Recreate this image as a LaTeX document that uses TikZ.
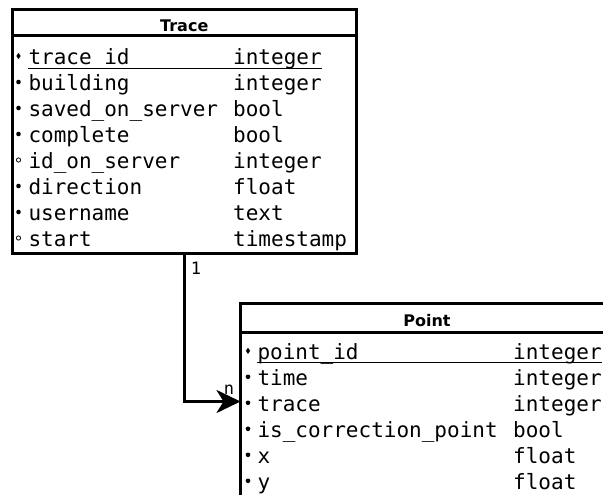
\documentclass[tikz,border=0pt]{standalone}
\usepackage{fontspec}
\newfontfamily\fieldfont{DejaVu Sans Mono}
\newfontfamily\headfont{DejaVu Sans}
\usetikzlibrary{arrows.meta,shapes.geometric}
\begin{document}
\begin{tikzpicture}[x=1pt,y=-1pt,
  table/.style={draw, line width=3pt, inner sep=0pt, outer sep=0pt, fill=white},
  rule/.style={line width=3pt},
  keyline/.style={line width=1.4pt},
  title/.style={font=\headfont\bfseries\fontsize{16}{19}\selectfont, inner sep=0pt, anchor=base},
  field/.style={font=\fieldfont\fontsize{21}{26}\selectfont, inner sep=0pt, anchor=base west},
  mult/.style={font=\fieldfont\fontsize{17}{20}\selectfont, inner sep=0pt},
  pk/.style={diamond, fill=black, inner sep=0pt, minimum width=4.4pt, minimum height=6.4pt},
  req/.style={circle, fill=black, inner sep=0pt, minimum size=4.6pt},
  opt/.style={circle, draw=black, line width=0.8pt, inner sep=0pt, minimum size=4.2pt},
  link/.style={line width=3pt, -{Stealth[length=24pt,width=23pt,inset=7pt]}}
]
\useasboundingbox (0,0) rectangle (603,495);
\clip (0,0) rectangle (603,495);

% ---- table Trace ----
\node[table, minimum width=344.5pt, minimum height=244pt] (trace) at (184.25,131.5) {};
\draw[rule] (trace.west |- 0,35.5) -- (trace.east |- 0,35.5);
\node[title] (traceTitle) at (184.25,31.5) {Trace};
\foreach \n/\t/\k [count=\i from 0] in
  {trace\_id/integer/pk, building/integer/req, saved\_on\_server/bool/req,
   complete/bool/req, id\_on\_server/integer/opt, direction/float/req,
   username/text/req, start/timestamp/opt}
{
  \node[\k] (traceMark\i) at (18.5,56+26*\i) {};
  \node[field] (traceName\i) at (28.3,64.7+26*\i) {\n};
  \node[field] (traceType\i) at (233,64.7+26*\i) {\t};
}
\draw[keyline] (28.3,68.5) -- (322,68.5);

% ---- table Point ----
\node[table, minimum width=373pt, minimum height=196pt] (point) at (427,401.5) {};
\draw[rule] (point.west |- 0,332.5) -- (point.east |- 0,332.5);
\node[title] (pointTitle) at (427,326) {Point};
\foreach \n/\t/\k [count=\i from 0] in
  {point\_id/integer/pk, time/integer/req, trace/integer/req,
   is\_correction\_point/bool/req, x/float/req, y/float/req}
{
  \node[\k] (pointMark\i) at (248,350.8+26*\i) {};
  \node[field] (pointName\i) at (257.3,359.3+26*\i) {\n};
  \node[field] (pointType\i) at (513,359.3+26*\i) {\t};
}
\draw[keyline] (257.3,362.5) -- (602,362.5);

% ---- relation Trace 1 -- n Point ----
\node[mult] (one) at (196,268) {1};
\node[mult] (many) at (229,389.5) {n};
\draw[link] (trace.south) |- (point.west);
\end{tikzpicture}
\end{document}
